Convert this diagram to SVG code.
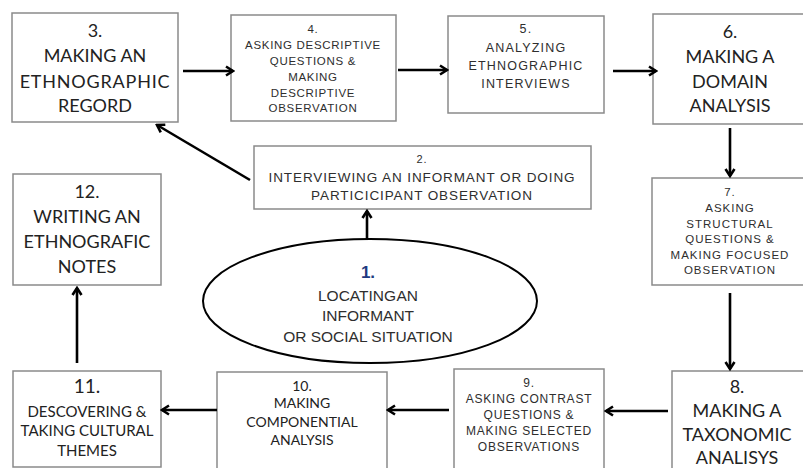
<svg xmlns="http://www.w3.org/2000/svg" width="803" height="468" viewBox="0 0 803 468">
<style>
.box{fill:#fff;stroke:#8a8a8a;stroke-width:1.5}
.c{font-family:Lato,"Liberation Sans",sans-serif;fill:#222;text-anchor:middle}
.a{font-family:"Liberation Sans",Arial,sans-serif;fill:#2e2e2e;text-anchor:middle}
.conn line{stroke:#000;stroke-width:2.6;marker-end:url(#ah)}
</style>
<defs>
<marker id="ah" viewBox="0 0 12 12" refX="10" refY="6" markerWidth="12" markerHeight="12" orient="auto" markerUnits="userSpaceOnUse">
<path d="M3,1.5 L10,6 L3,10.5" fill="none" stroke="#000" stroke-width="2.6"/>
</marker>
</defs>
<rect width="803" height="468" fill="#fff"/>

<g id="n3">
<rect class="box" x="12" y="13" width="166" height="109"/>
<text class="c" font-size="18"><tspan x="95" y="37">3.</tspan><tspan x="95" y="62">MAKING AN</tspan><tspan x="95" y="88" letter-spacing="0.8">ETHNOGRAPHIC</tspan><tspan x="95" y="112">REGORD</tspan></text>
</g>
<g id="n4">
<rect class="box" x="231" y="15" width="165" height="106"/>
<text class="a" font-size="11.5" letter-spacing="0.7"><tspan x="313" y="33">4.</tspan><tspan x="313" y="49">ASKING DESCRIPTIVE</tspan><tspan x="313" y="65">QUESTIONS &amp;</tspan><tspan x="313" y="81">MAKING</tspan><tspan x="313" y="97">DESCRIPTIVE</tspan><tspan x="313" y="112">OBSERVATION</tspan></text>
</g>
<g id="n5">
<rect class="box" x="448" y="16" width="156" height="97"/>
<text class="a" font-size="12.5" letter-spacing="1.2"><tspan x="526" y="33">5.</tspan><tspan x="526" y="52">ANALYZING</tspan><tspan x="526" y="70">ETHNOGRAPHIC</tspan><tspan x="526" y="88">INTERVIEWS</tspan></text>
</g>
<g id="n6">
<rect class="box" x="653" y="14" width="160" height="110"/>
<text class="c" font-size="18"><tspan x="730" y="38">6.</tspan><tspan x="730" y="63">MAKING A</tspan><tspan x="730" y="88">DOMAIN</tspan><tspan x="730" y="112">ANALYSIS</tspan></text>
</g>
<g id="n2">
<rect class="box" x="254" y="146" width="337" height="63"/>
<text class="a" font-size="13.5" letter-spacing="0.9"><tspan x="422" y="163" font-size="11">2.</tspan><tspan x="422" y="182">INTERVIEWING AN INFORMANT OR DOING</tspan><tspan x="422" y="200">PARTICICIPANT  OBSERVATION</tspan></text>
</g>
<g id="n12">
<rect class="box" x="13" y="174" width="148" height="111"/>
<text class="c" font-size="18"><tspan x="87" y="198">12.</tspan><tspan x="87" y="223">WRITING AN</tspan><tspan x="87" y="248">ETHNOGRAFIC</tspan><tspan x="87" y="273">NOTES</tspan></text>
</g>
<g id="n1">
<ellipse cx="370" cy="301" rx="167" ry="62" fill="#fff" stroke="#000" stroke-width="2"/>
<text class="a" font-size="15.5"><tspan x="368" y="278" font-weight="bold" font-size="17" fill="#1f3a80">1.</tspan><tspan x="368" y="301" word-spacing="-3">LOCATING AN</tspan><tspan x="368" y="321">INFORMANT</tspan><tspan x="368" y="342">OR SOCIAL SITUATION</tspan></text>
</g>
<g id="n7">
<rect class="box" x="652" y="178" width="160" height="107"/>
<text class="a" font-size="11.5" letter-spacing="1"><tspan x="730" y="196">7.</tspan><tspan x="730" y="212">ASKING</tspan><tspan x="730" y="228">STRUCTURAL</tspan><tspan x="730" y="243">QUESTIONS &amp;</tspan><tspan x="730" y="259">MAKING FOCUSED</tspan><tspan x="730" y="274">OBSERVATION</tspan></text>
</g>
<g id="n8">
<rect class="box" x="672" y="371" width="140" height="110"/>
<text class="c" font-size="18"><tspan x="737" y="393">8.</tspan><tspan x="737" y="417">MAKING A</tspan><tspan x="737" y="441">TAXONOMIC</tspan><tspan x="737" y="464">ANALISYS</tspan></text>
</g>
<g id="n9">
<rect class="box" x="454" y="369" width="150" height="110"/>
<text class="a" font-size="12" letter-spacing="0.8"><tspan x="529" y="387">9.</tspan><tspan x="529" y="403">ASKING CONTRAST</tspan><tspan x="529" y="419">QUESTIONS &amp;</tspan><tspan x="529" y="435">MAKING SELECTED</tspan><tspan x="529" y="451">OBSERVATIONS</tspan></text>
</g>
<g id="n10">
<rect class="box" x="217" y="372" width="170" height="110"/>
<text class="c" font-size="14"><tspan x="302" y="391">10.</tspan><tspan x="302" y="408">MAKING</tspan><tspan x="302" y="427">COMPONENTIAL</tspan><tspan x="302" y="445">ANALYSIS</tspan></text>
</g>
<g id="n11">
<rect class="box" x="13" y="371" width="148" height="96"/>
<text class="c" font-size="15"><tspan x="87" y="393" font-size="19">11.</tspan><tspan x="87" y="417">DESCOVERING &amp;</tspan><tspan x="87" y="436">TAKING CULTURAL</tspan><tspan x="87" y="456">THEMES</tspan></text>
</g>

<g id="connectors" class="conn">
<line x1="183" y1="71" x2="233" y2="71"/>
<line x1="398" y1="70" x2="447" y2="70"/>
<line x1="613" y1="71" x2="656" y2="71"/>
<line x1="730" y1="128" x2="730" y2="176"/>
<line x1="730" y1="293" x2="730" y2="369"/>
<line x1="668" y1="411" x2="606" y2="411"/>
<line x1="449" y1="410" x2="388" y2="410"/>
<line x1="217" y1="410" x2="162" y2="410"/>
<line x1="77" y1="363" x2="77" y2="288"/>
<line x1="367" y1="239" x2="367" y2="211"/>
<line x1="250" y1="180" x2="157" y2="125"/>
</g>
</svg>
